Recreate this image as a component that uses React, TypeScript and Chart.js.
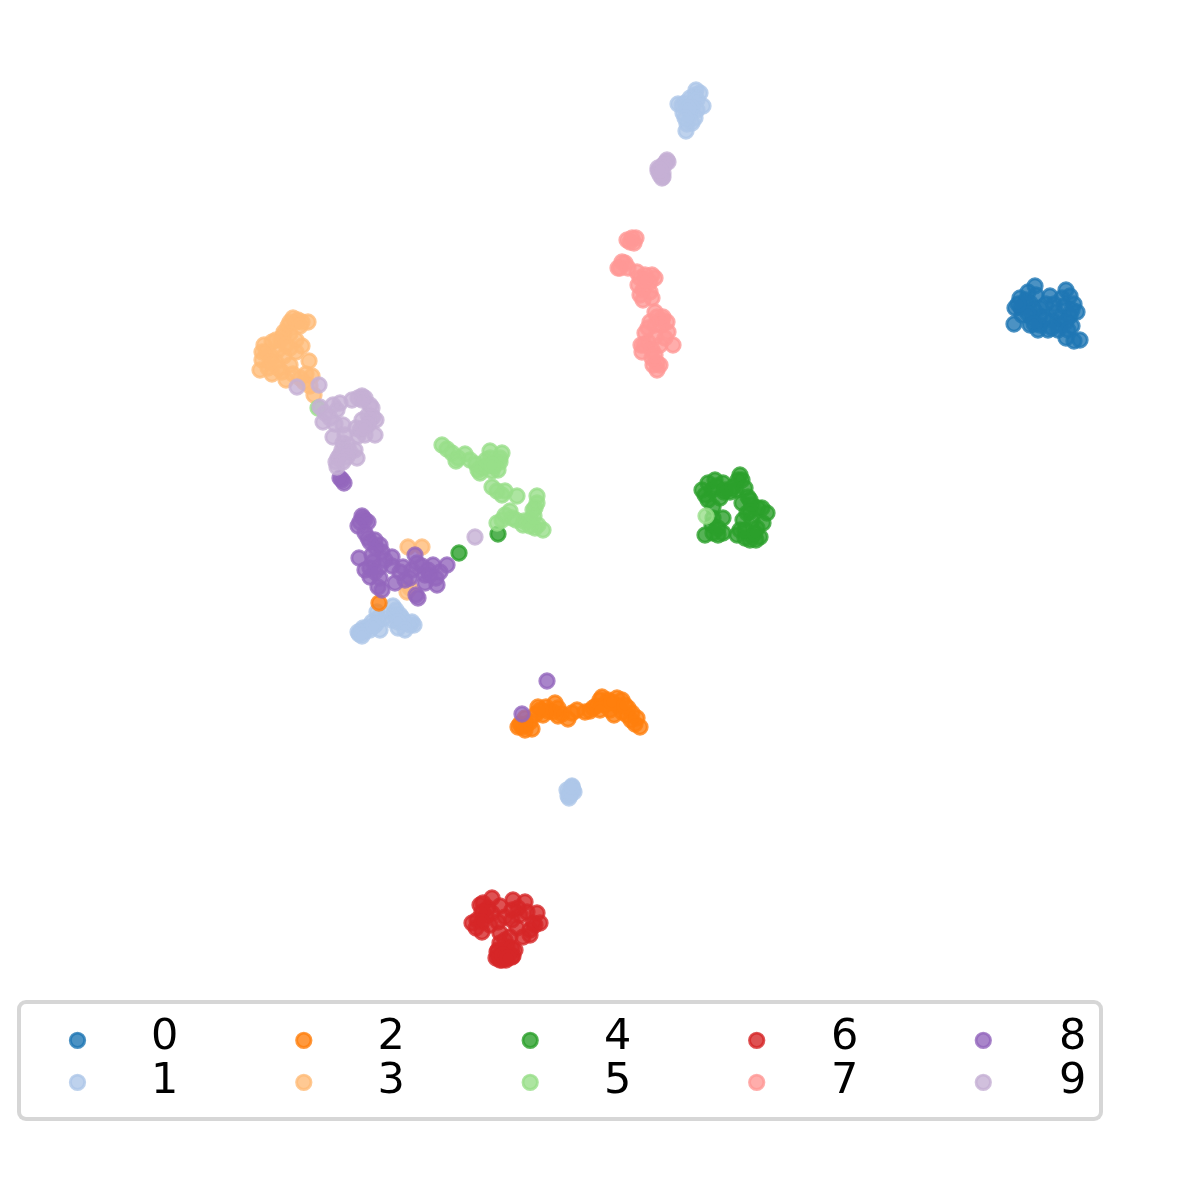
import React, { useEffect, useRef } from "react";
import { Chart, registerables } from "chart.js";

Chart.register(...registerables);

const labels = ["0", "1", "2", "3", "4", "5", "6", "7", "8", "9"];
const colors = [
  "rgba(31,119,180,0.8)", "rgba(174,199,232,0.8)", "rgba(255,127,14,0.8)", "rgba(255,187,120,0.8)",
  "rgba(44,160,44,0.8)", "rgba(152,223,138,0.8)", "rgba(214,39,40,0.8)", "rgba(255,152,150,0.8)",
  "rgba(148,103,189,0.8)", "rgba(197,176,213,0.8)",
];

const class0 = [[1035,286],[1028,292],[1020,298],[1015,308],[1014,324],[1022,315],[1030,303],[1036,295],[1040,308],[1032,318],[1024,305],[1040,325],[1048,330],[1052,320],[1050,296],[1046,304],[1056,312],[1060,325],[1066,290],[1062,298],[1070,296],[1074,304],[1077,312],[1070,316],[1064,306],[1072,326],[1066,338],[1074,341],[1080,340],[1058,330],[1040,316],[1030,325],[1038,330],[1021,308],[1072,310],[1026,300],[1034,310],[1028,314],[1044,318],[1054,304],[1060,318],[1066,322],[1052,328],[1034,324],[1068,330],[1018,304]];
const class1 = [[700,93],[696,90],[695,95],[690,98],[685,103],[678,104],[682,105],[693,104],[703,106],[697,100],[697,110],[692,108],[683,113],[690,114],[695,118],[692,123],[687,124],[686,131],[688,108],[685,118],[359,634],[361,631],[363,628],[368,627],[372,622],[378,618],[380,630],[377,612],[393,606],[396,610],[400,615],[392,620],[398,628],[404,622],[410,625],[414,625],[364,632],[370,630],[402,618],[376,624],[394,614],[358,632],[362,636],[374,626],[384,618],[412,622],[398,622],[405,630],[572,787],[570,791],[573,790],[570,795],[568,796],[574,792],[567,790],[569,798],[572,786]];
const class2 = [[522,727],[526,725],[520,724],[518,727],[525,730],[532,729],[530,722],[536,714],[538,707],[543,715],[546,707],[548,711],[555,703],[553,712],[558,716],[558,708],[562,714],[568,719],[572,713],[577,710],[590,711],[593,708],[596,706],[602,697],[600,700],[608,700],[605,705],[610,710],[614,715],[617,698],[622,700],[618,706],[622,712],[628,708],[632,713],[627,715],[631,720],[637,718],[635,724],[640,727],[600,710],[585,712],[612,702],[625,705],[540,710],[525,718],[379,603]];
const class3 = [[293,318],[298,320],[296,322],[302,322],[308,322],[288,326],[290,322],[300,326],[284,332],[290,334],[283,336],[281,340],[296,340],[302,346],[264,345],[272,342],[278,350],[270,355],[262,360],[260,370],[268,368],[276,362],[284,356],[290,365],[272,374],[286,380],[282,372],[293,374],[309,361],[306,374],[312,376],[304,382],[310,386],[314,395],[290,348],[296,352],[266,352],[276,340],[278,368],[286,345],[262,352],[270,362],[300,378],[408,547],[422,547],[407,592],[410,588]];
const class4 = [[708,483],[723,483],[740,475],[742,480],[738,480],[705,495],[720,498],[730,492],[712,490],[736,490],[716,486],[724,492],[708,500],[715,480],[725,490],[733,487],[702,490],[745,488],[748,497],[750,500],[742,503],[758,508],[762,508],[767,513],[763,523],[747,513],[752,505],[757,528],[760,537],[750,540],[745,538],[752,536],[740,530],[756,540],[737,535],[745,530],[743,520],[755,533],[750,512],[723,518],[723,533],[713,533],[712,525],[718,535],[705,535],[713,507],[713,518],[752,520],[718,528],[459,553],[498,534]];
const class5 = [[442,445],[447,449],[452,453],[458,458],[456,461],[465,454],[470,460],[476,464],[482,468],[480,473],[478,470],[487,466],[490,451],[490,458],[496,462],[494,466],[502,453],[500,458],[500,462],[498,470],[492,471],[492,487],[497,491],[502,495],[505,491],[517,496],[537,496],[537,503],[535,508],[533,510],[510,511],[512,518],[497,523],[502,520],[505,515],[516,520],[524,521],[523,525],[530,520],[535,528],[543,530],[538,525],[530,526],[486,460],[492,465],[534,516],[318,408],[706,516]];
const class6 = [[492,898],[483,903],[480,905],[488,908],[513,900],[525,902],[518,908],[537,913],[540,923],[535,925],[533,923],[530,930],[530,935],[472,923],[477,920],[476,928],[486,916],[482,932],[490,925],[500,933],[505,917],[492,913],[500,906],[512,920],[523,937],[510,937],[505,940],[498,957],[496,958],[500,960],[506,960],[513,956],[512,957],[502,960],[507,947],[505,952],[497,952],[498,950],[515,950],[482,912],[498,922],[520,915],[527,912],[482,922],[512,910],[517,928],[500,943],[512,948],[503,955],[508,958]];
const class7 = [[632,238],[627,240],[636,238],[634,243],[630,242],[625,263],[622,262],[618,268],[620,268],[628,268],[637,272],[645,275],[640,278],[655,278],[652,275],[650,282],[638,285],[643,290],[640,295],[650,292],[643,300],[652,298],[657,317],[655,312],[662,320],[667,322],[663,317],[655,325],[662,325],[668,332],[673,345],[645,333],[655,337],[648,342],[644,345],[641,345],[642,352],[652,350],[660,345],[657,363],[660,365],[653,365],[657,370],[652,358],[645,280],[650,322],[665,338],[648,328],[655,355]];
const class8 = [[363,518],[360,522],[365,520],[362,516],[368,522],[358,526],[365,533],[368,538],[370,542],[375,540],[376,548],[380,545],[382,552],[359,558],[365,570],[373,562],[380,567],[385,560],[392,557],[370,568],[370,577],[378,587],[382,590],[395,583],[405,580],[410,578],[403,567],[400,572],[415,555],[417,563],[412,570],[428,570],[422,566],[425,575],[440,572],[447,565],[437,585],[425,583],[430,575],[418,598],[416,595],[433,565],[436,578],[380,578],[372,555],[392,566],[375,572],[340,478],[344,483],[342,480],[547,681],[522,714]];
const class9 = [[297,387],[319,385],[320,407],[340,403],[333,405],[337,410],[325,413],[323,422],[343,425],[335,424],[358,398],[352,400],[362,396],[365,398],[370,405],[372,408],[368,415],[373,417],[376,420],[370,420],[360,430],[356,428],[358,436],[362,420],[368,425],[375,435],[365,435],[333,437],[343,443],[345,435],[355,450],[348,445],[342,450],[338,458],[336,462],[357,458],[340,455],[350,452],[337,467],[347,457],[343,462],[330,418],[364,428],[362,400],[667,160],[663,165],[666,162],[668,162],[658,168],[663,173],[660,175],[658,171],[663,177],[662,178],[664,165],[660,170],[475,537]];

const classes = [class0, class1, class2, class3, class4, class5, class6, class7, class8, class9];

const legendMarkerX = [77.5, 303.8, 530.2, 756.7, 983.3];
const legendTextX = [151, 377.5, 604, 831, 1059];
const legendMarkerY = [1040.3, 1082.3];
const legendTextY = [1034, 1078];

export default function App() {
  const ref = useRef<HTMLCanvasElement | null>(null);

  useEffect(() => {
    const chart = new Chart(ref.current as HTMLCanvasElement, {
      type: "scatter",
      data: {
        datasets: classes.map((pts, i) => ({
          label: labels[i],
          data: pts.map(([x, y]) => ({ x, y })),
          backgroundColor: colors[i],
          borderColor: colors[i],
          borderWidth: 2.9,
          pointRadius: 7.2,
          pointHoverRadius: 7.2,
          order: classes.length - i,
        })),
      },
      options: {
        animation: false,
        responsive: false,
        layout: { padding: 0, autoPadding: false },
        plugins: { legend: { display: false }, tooltip: { enabled: false } },
        scales: {
          x: { type: "linear", min: 0, max: 1200, display: false },
          y: { type: "linear", min: 0, max: 1200, reverse: true, display: false },
        },
      },
    });
    return () => chart.destroy();
  }, []);

  return (
    <div style={{ position: "absolute", left: 0, top: 0, width: 1200, height: 1200, background: "#fff", overflow: "hidden" }}>
      <canvas ref={ref} width={1200} height={1200} style={{ position: "absolute", left: 0, top: 0 }} />
      <div
        style={{
          position: "absolute", left: 16.5, top: 999.5, width: 1086, height: 121, boxSizing: "border-box",
          border: "4px solid rgba(204,204,204,0.8)", borderRadius: 9, background: "rgba(255,255,255,0.8)",
        }}
      />
      <svg width={1200} height={1200} style={{ position: "absolute", left: 0, top: 0, pointerEvents: "none" }}>
        {labels.map((_, i) => (
          <circle
            key={i}
            cx={legendMarkerX[Math.floor(i / 2)]}
            cy={legendMarkerY[i % 2]}
            r={7.2}
            fill={colors[i]}
            stroke={colors[i]}
            strokeWidth={2.9}
          />
        ))}
      </svg>
      {labels.map((t, i) => (
        <div
          key={t}
          style={{
            position: "absolute",
            left: legendTextX[Math.floor(i / 2)],
            top: legendTextY[i % 2] - 24,
            height: 48,
            lineHeight: "48px",
            fontFamily: '"DejaVu Sans"',
            fontSize: 43,
            color: "#000",
          }}
        >
          {t}
        </div>
      ))}
    </div>
  );
}
